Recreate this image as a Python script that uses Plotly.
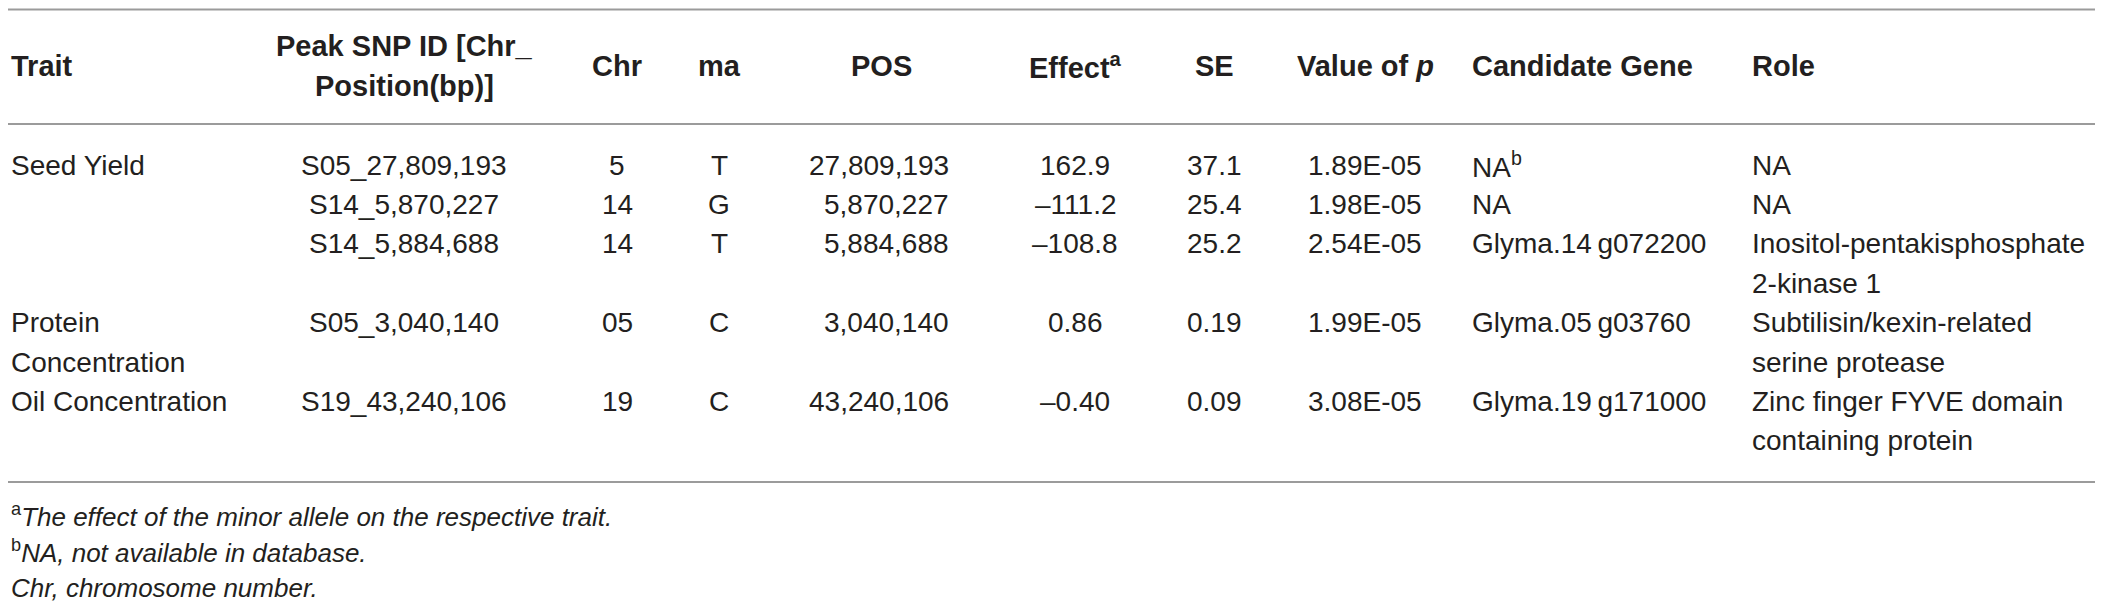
import plotly.graph_objects as go

# Table values
traits = ["Seed Yield", "", "", "Protein<br>Concentration", "Oil Concentration"]
snp_ids = ["S05_27,809,193", "S14_5,870,227", "S14_5,884,688", "S05_3,040,140", "S19_43,240,106"]
chromosomes = ["5", "14", "14", "05", "19"]
minor_alleles = ["T", "G", "T", "C", "C"]
positions = [27809193, 5870227, 5884688, 3040140, 43240106]
effects = ["162.9", "\u2013111.2", "\u2013108.8", "0.86", "\u20130.40"]
std_errors = ["37.1", "25.4", "25.2", "0.19", "0.09"]
p_values = ["1.89E-05", "1.98E-05", "2.54E-05", "1.99E-05", "3.08E-05"]
genes = ["NA<sup>b</sup>", "NA", "Glyma.14\u2009g072200", "Glyma.05\u2009g03760", "Glyma.19\u2009g171000"]
roles = ["NA", "NA", "Inositol-pentakisphosphate<br>2-kinase 1",
         "Subtilisin/kexin-related<br>serine protease", "Zinc finger FYVE domain<br>containing protein"]

headers = ["Trait", "Peak SNP ID [Chr_<br>Position(bp)]", "Chr", "ma", "POS", "Effect<sup>a</sup>",
           "SE", "Value of <i>p</i>", "Candidate Gene", "Role"]
footnotes = ["<sup>a</sup><i>The effect of the minor allele on the respective trait.</i>",
             "<sup>b</sup><i>NA, not available in database.</i>",
             "<i>Chr, chromosome number.</i>"]

W, H = 2103, 608
OFF = 8  # page body margin around the plot div
FONT = "Liberation Sans, Arial, Helvetica, sans-serif"
TXT = "#231f20"

# column layout: header (x, anchor), body (x, anchor)
col_layout = [
    ((0, "left"), (0, "left")),
    ((404, "center"), (404, "center")),
    ((617, "center"), (617, "center")),
    ((719, "center"), (719, "center")),
    ((881, "center"), (951, "right")),
    ((1075, "center"), (1075, "center")),
    ((1214, "center"), (1214, "center")),
    ((1365, "center"), (1365, "center")),
    ((1470, "left"), (1470, "left")),
    ((1750, "left"), (1750, "left")),
]

columns = [traits, snp_ids, chromosomes, minor_alleles, [f"{p:,}" for p in positions],
           effects, std_errors, p_values, genes, roles]

fig = go.Figure()
annotations = []

def add_text(txt, x, y, anchor, size=28, bold=False):
    annotations.append(dict(
        x=max(x, OFF + 0.5), y=y, xref="x", yref="y", text=txt, showarrow=False,
        xanchor=anchor, yanchor="middle", align=anchor,
        font=dict(family=FONT, size=size, color=TXT, weight="bold" if bold else "normal"),
    ))

# header cells
for i, h in enumerate(headers):
    (hx, ha), _ = col_layout[i]
    lines = h.split("<br>")
    if len(lines) == 1:
        add_text(h, hx, 66, ha, 29, True)
    else:
        for k, ln in enumerate(lines):
            add_text(ln, hx, 46 + 40 * k, ha, 29, True)

# body cells, each text line placed on its own
LINE0, PITCH = 165, 39.4
line_idx = 0
for r in range(len(snp_ids)):
    n_lines = max(len(col[r].split("<br>")) for col in columns)
    for c, col in enumerate(columns):
        _, (bx, ba) = col_layout[c]
        for k, ln in enumerate(col[r].split("<br>")):
            if ln:
                add_text(ln, bx, LINE0 + PITCH * (line_idx + k), ba)
    line_idx += n_lines

# footnotes
for k, fn in enumerate(footnotes):
    add_text(fn, 0, 515 + 36.5 * k, "left", 26)

# rules
for yy in [4, 124, 482]:
    yy = max(yy, OFF + 1.5)
    fig.add_shape(type="line", x0=0, x1=W + OFF, y0=yy, y1=yy, xref="x", yref="y",
                  line=dict(color="#9b9b9b", width=2))

fig.update_layout(
    width=W, height=H,
    margin=dict(l=0, r=0, t=0, b=0),
    paper_bgcolor="white", plot_bgcolor="white",
    xaxis=dict(range=[OFF, W + OFF], visible=False, fixedrange=True),
    yaxis=dict(range=[H + OFF, OFF], visible=False, fixedrange=True),
    annotations=annotations,
    showlegend=False,
)

fig.write_html("out.html")
